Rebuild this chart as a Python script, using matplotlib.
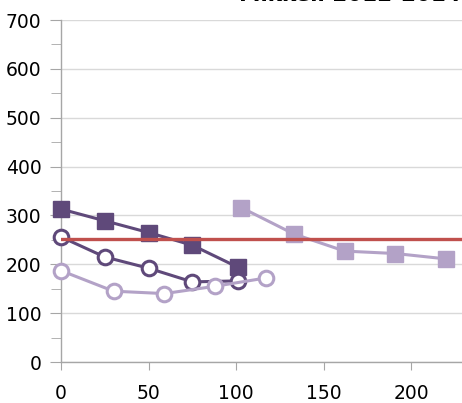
import matplotlib.pyplot as plt
from matplotlib.ticker import MultipleLocator

# Series values
sq_dark_x = [0, 25, 50, 75, 101]
sq_dark_y = [313, 289, 265, 239, 194]

circ_dark_x = [0, 25, 50, 75, 101]
circ_dark_y = [256, 215, 192, 164, 166]

circ_light_x = [0, 30, 59, 88, 117]
circ_light_y = [187, 145, 140, 155, 172]

sq_light_x = [103, 133, 162, 191, 220]
sq_light_y = [316, 262, 227, 222, 211]

ref_level = 252
title = 'Mikkeli 2012-2014'

dark = '#5F497A'
light = '#B3A2C7'
red = '#C0504D'

fig = plt.figure(figsize=(4.62, 4.03), dpi=100)
ax = fig.add_axes([61 / 462, 1 - 362 / 403, 1 - 61 / 462, (362 - 20) / 403])

ax.plot(sq_dark_x, sq_dark_y, color=dark, lw=2.2, marker='s', ms=11,
        mfc=dark, mec=dark, zorder=3, clip_on=False)
ax.plot(circ_dark_x, circ_dark_y, color=dark, lw=2.2, marker='o', ms=10.5,
        mfc='white', mec=dark, mew=2.2, zorder=3, clip_on=False)
ax.plot(circ_light_x, circ_light_y, color=light, lw=2.2, marker='o', ms=10.5,
        mfc='white', mec=light, mew=2.2, zorder=3, clip_on=False)
ax.plot(sq_light_x, sq_light_y, color=light, lw=2.2, marker='s', ms=11.5,
        mfc=light, mec=light, zorder=3, clip_on=False)
ax.axhline(ref_level, xmin=0, xmax=1, color=red, lw=2.4, zorder=4)

ax.set_xlim(0, 229)
ax.set_ylim(0, 700)
ax.xaxis.set_major_locator(MultipleLocator(50))
ax.yaxis.set_major_locator(MultipleLocator(100))
ax.yaxis.set_minor_locator(MultipleLocator(50))

ax.grid(axis='y', which='major', color='#D9D9D9', lw=1)
ax.set_axisbelow(True)
for s in ['top', 'right']:
    ax.spines[s].set_visible(False)
for s in ['left', 'bottom']:
    ax.spines[s].set_color('#A6A6A6')
    ax.spines[s].set_linewidth(1)

ax.tick_params(axis='both', which='major', direction='out', length=6,
               color='#A6A6A6', labelsize=13.5, labelcolor='black')
ax.tick_params(axis='y', which='major', length=8, pad=6)
ax.tick_params(axis='y', which='minor', direction='out', length=7, color='#A6A6A6')
ax.tick_params(axis='x', pad=10)

# title sits mostly above the visible area, as in the source image
fig.text(0.998, 1.012, title, ha='right', va='center', fontsize=15.5,
         fontweight='bold', color='black')

fig.savefig('out.png', dpi=100)
